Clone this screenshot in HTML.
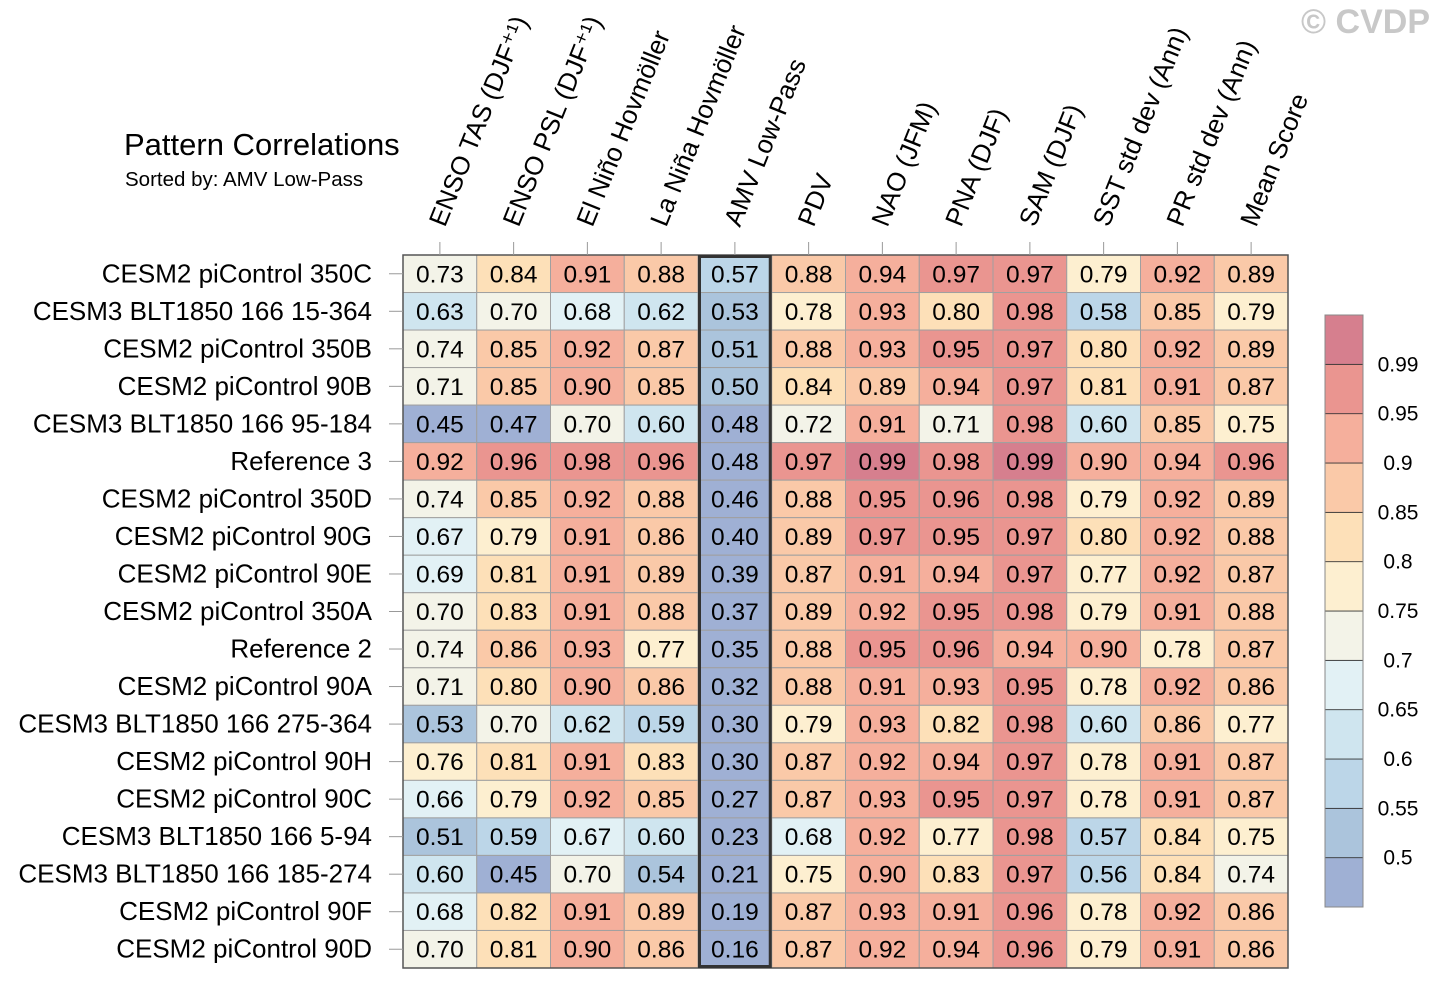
<!DOCTYPE html>
<html><head><meta charset="utf-8"><style>
body{margin:0;background:#fff;}
svg{display:block;font-family:"Liberation Sans",sans-serif;}
</style></head><body>
<svg id="chart" width="1440" height="989" viewBox="0 0 1440 989">
<text x="1430" y="33" text-anchor="end" font-size="34" font-weight="bold" fill="#c8c8c8">© CVDP</text>
<text x="124" y="155" font-size="31" fill="#000">Pattern Correlations</text>
<text x="125" y="186" font-size="20.5" fill="#000">Sorted by: AMV Low-Pass</text>
<g id="cells"></g><g id="grid"></g><g id="labels"></g><g id="cbar"></g>
</svg>
<script>
const columns=["ENSO TAS (DJF⁺¹)","ENSO PSL (DJF⁺¹)","El Niño Hovmöller","La Niña Hovmöller","AMV Low-Pass","PDV","NAO (JFM)","PNA (DJF)","SAM (DJF)","SST std dev (Ann)","PR std dev (Ann)","Mean Score"];
const rows=["CESM2 piControl 350C","CESM3 BLT1850 166 15-364","CESM2 piControl 350B","CESM2 piControl 90B","CESM3 BLT1850 166 95-184","Reference 3","CESM2 piControl 350D","CESM2 piControl 90G","CESM2 piControl 90E","CESM2 piControl 350A","Reference 2","CESM2 piControl 90A","CESM3 BLT1850 166 275-364","CESM2 piControl 90H","CESM2 piControl 90C","CESM3 BLT1850 166 5-94","CESM3 BLT1850 166 185-274","CESM2 piControl 90F","CESM2 piControl 90D"];
const values=[
[.73,.84,.91,.88,.57,.88,.94,.97,.97,.79,.92,.89],
[.63,.70,.68,.62,.53,.78,.93,.80,.98,.58,.85,.79],
[.74,.85,.92,.87,.51,.88,.93,.95,.97,.80,.92,.89],
[.71,.85,.90,.85,.50,.84,.89,.94,.97,.81,.91,.87],
[.45,.47,.70,.60,.48,.72,.91,.71,.98,.60,.85,.75],
[.92,.96,.98,.96,.48,.97,.99,.98,.99,.90,.94,.96],
[.74,.85,.92,.88,.46,.88,.95,.96,.98,.79,.92,.89],
[.67,.79,.91,.86,.40,.89,.97,.95,.97,.80,.92,.88],
[.69,.81,.91,.89,.39,.87,.91,.94,.97,.77,.92,.87],
[.70,.83,.91,.88,.37,.89,.92,.95,.98,.79,.91,.88],
[.74,.86,.93,.77,.35,.88,.95,.96,.94,.90,.78,.87],
[.71,.80,.90,.86,.32,.88,.91,.93,.95,.78,.92,.86],
[.53,.70,.62,.59,.30,.79,.93,.82,.98,.60,.86,.77],
[.76,.81,.91,.83,.30,.87,.92,.94,.97,.78,.91,.87],
[.66,.79,.92,.85,.27,.87,.93,.95,.97,.78,.91,.87],
[.51,.59,.67,.60,.23,.68,.92,.77,.98,.57,.84,.75],
[.60,.45,.70,.54,.21,.75,.90,.83,.97,.56,.84,.74],
[.68,.82,.91,.89,.19,.87,.93,.91,.96,.78,.92,.86],
[.70,.81,.90,.86,.16,.87,.92,.94,.96,.79,.91,.86]];
const levels=[0.5,0.55,0.6,0.65,0.7,0.75,0.8,0.85,0.9,0.95,0.99];
const levelLabels=["0.5","0.55","0.6","0.65","0.7","0.75","0.8","0.85","0.9","0.95","0.99"];
const palette=["#9fb0d4","#abc4dc","#bcd6e8","#cfe5ef","#e2f1f5","#f3f3e8","#fdefd0","#fde0b8","#fac9a8","#f5af9c","#ea9590","#d67f8e"];
const sortedCol=4;

const NS="http://www.w3.org/2000/svg";
const X0=403,X1=1288,Y0=255,Y1=968;
const cw=(X1-X0)/columns.length, rh=(Y1-Y0)/rows.length;
const xc=i=>X0+cw*i, yr=j=>Y0+rh*j;
function mk(tag,attrs,parent){const e=document.createElementNS(NS,tag);for(const k in attrs)e.setAttribute(k,attrs[k]);parent.appendChild(e);return e;}
function colorFor(v){let b=0;const r=Math.round(v*100)/100;for(const l of levels){if(r>=l-1e-9)b++;}return palette[b];}
const gc=document.getElementById('cells'),gg=document.getElementById('grid'),gl=document.getElementById('labels'),gb=document.getElementById('cbar');
values.forEach((row,j)=>{row.forEach((v,i)=>{
 const r=mk('rect',{x:xc(i),y:yr(j),width:cw,height:rh,fill:colorFor(v),stroke:'#a0a0a0','stroke-width':1},gc);
 
 
 const t=mk('text',{x:xc(i)+cw/2,y:yr(j)+rh/2+8.5,'text-anchor':'middle','font-size':24.5,fill:'#000'},gc);
 t.textContent=v.toFixed(2);
 
 
});});
mk('rect',{x:X0,y:Y0,width:X1-X0,height:Y1-Y0,fill:'none',stroke:'#555','stroke-width':1.5},gg);
mk('rect',{x:xc(sortedCol)+1.5,y:Y0+1.5,width:cw-3,height:Y1-Y0-3,fill:'none',stroke:'#333','stroke-width':3},gg);
rows.forEach((name,j)=>{
 const y=yr(j)+rh/2;
 mk('line',{x1:389,x2:X0,y1:y,y2:y,stroke:'#999','stroke-width':1},gg);
 const t=mk('text',{x:372,y:y+8.5,'text-anchor':'end','font-size':26,fill:'#000'},gl);
 t.textContent=name;
 
 
});
columns.forEach((name,i)=>{
 const x=xc(i)+cw/2;
 mk('line',{x1:x,x2:x,y1:242,y2:Y0,stroke:'#999','stroke-width':1},gg);
 const ax=x+5, ay=228;
 const t=mk('text',{x:ax,y:ay,'font-size':26,fill:'#000',transform:`rotate(-68 ${ax} ${ay})`},gl);
 t.textContent=name;
 
 
});
const CX=1325,CW=38,CY0=315,CY1=907,bh=(CY1-CY0)/palette.length;
palette.forEach((c,k)=>{
 const r=mk('rect',{x:CX,y:CY1-bh*(k+1),width:CW,height:bh,fill:c,stroke:'#333','stroke-width':0.8},gb);
 
 
});
mk('rect',{x:CX,y:CY0,width:CW,height:CY1-CY0,fill:'none',stroke:'#888','stroke-width':1},gb);
levelLabels.forEach((l,k)=>{
 const y=CY1-bh*(k+1);
 const t=mk('text',{x:1398,y:y+7,'text-anchor':'middle','font-size':21,fill:'#000'},gb);
 t.textContent=l;
 
 
});
</script>
</body></html>
